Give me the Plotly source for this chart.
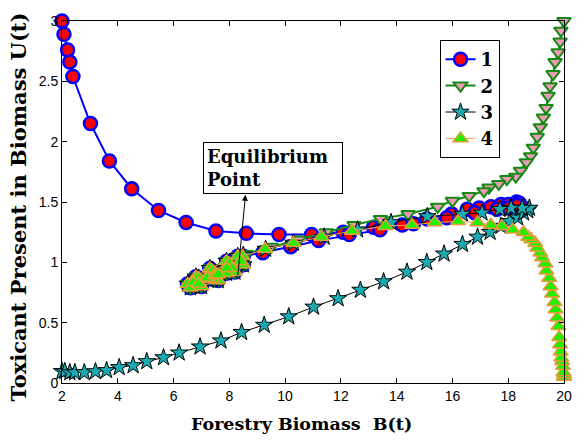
import plotly.graph_objects as go

# ---- data ----
SPIRAL_B = [8.3, 7.9, 7.3, 6.8, 6.5, 6.6, 7.0, 7.6, 8.2, 8.5, 8.4, 8.0, 7.4, 6.9, 6.7, 6.9, 7.4, 7.9, 8.1, 7.9, 7.5, 7.2, 7.2, 7.5, 7.6]
SPIRAL_U = [1.05, 1.01, 0.95, 0.88, 0.82, 0.79, 0.80, 0.85, 0.92, 0.98, 1.01, 0.99, 0.93, 0.87, 0.83, 0.82, 0.86, 0.91, 0.95, 0.95, 0.91, 0.88, 0.87, 0.89, 0.90]

B1 = [2.0, 2.07, 2.2, 2.28, 2.39, 3.02, 3.70, 4.5, 5.46, 6.45, 7.52, 8.61, 9.78, 10.95, 12.08, 13.17, 14.2, 15.08, 15.97,
      16.53, 16.96, 17.38, 17.74, 18.0, 18.3, 18.4, 18.3, 18.0, 17.6, 16.8, 15.8, 14.6, 13.4, 12.3, 11.2, 10.2, 9.2, 8.5]
U1 = [3.0, 2.89, 2.76, 2.66, 2.54, 2.15, 1.84, 1.61, 1.43, 1.33, 1.26, 1.24, 1.23, 1.23, 1.25, 1.29, 1.31, 1.36, 1.40,
      1.44, 1.45, 1.46, 1.48, 1.48, 1.50, 1.49, 1.47, 1.45, 1.44, 1.41, 1.37, 1.32, 1.27, 1.23, 1.18, 1.13, 1.08, 1.05]

B2 = [20.0, 19.89, 19.86, 19.79, 19.68, 19.61, 19.5, 19.43, 19.36, 19.26, 19.15, 19.04, 18.9, 18.8, 18.65, 18.44, 18.27,
      17.95, 17.66, 17.31, 17.13, 16.6, 16.0, 15.47, 14.41, 13.42, 12.47, 11.48, 10.5, 9.5, 8.6]
U2 = [3.0, 2.92, 2.83, 2.74, 2.66, 2.56, 2.46, 2.38, 2.28, 2.20, 2.12, 2.04, 1.95, 1.88, 1.83, 1.76, 1.71,
      1.69, 1.65, 1.62, 1.59, 1.55, 1.51, 1.46, 1.40, 1.36, 1.31, 1.25, 1.19, 1.13, 1.07]

B3 = [2.0, 2.1, 2.28, 2.46, 2.8, 3.2, 3.6, 4.05, 4.55, 5.04, 5.64, 6.2, 6.95, 7.7, 8.44, 9.25, 10.13, 11.02, 11.9, 12.7,
      13.53, 14.37, 15.08, 15.7, 16.36, 16.9, 17.35, 17.74, 18.05, 18.34, 18.55, 18.7, 18.76, 18.5, 18.1, 17.7, 17.06,
      16.36, 15.1, 13.8, 12.6, 11.4, 10.3, 9.3, 8.5]
U3 = [0.096, 0.096, 0.087, 0.087, 0.087, 0.095, 0.104, 0.129, 0.145, 0.178, 0.211, 0.25, 0.30, 0.35, 0.42, 0.48, 0.55,
      0.63, 0.70, 0.77, 0.84, 0.92, 1.0, 1.07, 1.15, 1.21, 1.25, 1.30, 1.34, 1.37, 1.41, 1.43, 1.45, 1.45, 1.45, 1.44,
      1.41, 1.40, 1.38, 1.33, 1.27, 1.21, 1.16, 1.11, 1.06]

B4 = [20.0, 20.0, 19.98, 19.96, 19.93, 19.9, 19.88, 19.86, 19.83, 19.8, 19.75, 19.7, 19.66, 19.57, 19.52, 19.47, 19.37,
      19.33, 19.22, 19.15, 19.04, 18.97, 18.83, 18.72, 18.55, 18.16, 17.77, 17.38, 16.9, 16.2, 15.37, 14.55, 13.6, 12.4,
      11.3, 10.3, 9.28, 8.47]
U4 = [0.05, 0.07, 0.09, 0.14, 0.18, 0.21, 0.26, 0.32, 0.38, 0.47, 0.54, 0.61, 0.67, 0.74, 0.80, 0.87, 0.93,
      0.99, 1.04, 1.08, 1.12, 1.16, 1.19, 1.21, 1.25, 1.27, 1.30, 1.31, 1.33, 1.34, 1.33, 1.31, 1.30, 1.26,
      1.21, 1.16, 1.11, 1.05]

NAMES = ["1", "2", "3", "4"]
X_TICKS = [2, 4, 6, 8, 10, 12, 14, 16, 18, 20]
Y_TICKS = [0, 0.5, 1, 1.5, 2, 2.5, 3]
Y_TICK_TEXT = ["0", "0.5", "1", "1.5", "2", "2.5", "3"]

TITLE_FONT = "DejaVu Serif"

fig = go.Figure()

fig.add_trace(go.Scatter(
    x=B1 + SPIRAL_B, y=U1 + SPIRAL_U, name=NAMES[0], mode="lines+markers", cliponaxis=False,
    line=dict(color="#0000ff", width=2),
    marker=dict(symbol="circle", size=13, color="#ff0000", line=dict(color="#0000ff", width=2.5)),
))
fig.add_trace(go.Scatter(
    x=B2 + SPIRAL_B, y=U2 + SPIRAL_U, name=NAMES[1], mode="lines+markers", cliponaxis=False,
    line=dict(color="#138a13", width=2),
    marker=dict(symbol="triangle-down", size=12, color="#f09ab8", line=dict(color="#138a13", width=2)),
))
fig.add_trace(go.Scatter(
    x=B3 + SPIRAL_B, y=U3 + SPIRAL_U, name=NAMES[2], mode="lines+markers", cliponaxis=False,
    line=dict(color="#000000", width=1),
    marker=dict(symbol="star", size=13, color="#1aaab2", line=dict(color="#000000", width=1)),
))
fig.add_trace(go.Scatter(
    x=B4 + SPIRAL_B, y=U4 + SPIRAL_U, name=NAMES[3], mode="lines+markers", cliponaxis=False,
    line=dict(color="#f0a850", width=1),
    marker=dict(symbol="triangle-up", size=13, color="#22ee00", line=dict(color="#e89a3a", width=1.5)),
))

axis_common = dict(
    showline=True, linecolor="black", linewidth=1, mirror="ticks",
    ticks="inside", ticklen=5, tickcolor="black", showgrid=False, zeroline=False,
    tickfont=dict(family="Liberation Sans", size=14, color="black"),
)

fig.update_xaxes(range=[2, 20], tickvals=X_TICKS, **axis_common)
fig.update_yaxes(range=[0, 3], tickvals=Y_TICKS, ticktext=Y_TICK_TEXT, **axis_common)

fig.update_layout(
    width=584, height=440,
    margin=dict(l=62, r=13, t=21, b=57),
    plot_bgcolor="white", paper_bgcolor="white",
    showlegend=True,
    legend=dict(
        x=0.752, y=0.9475, xanchor="left", yanchor="top",
        bgcolor="white", bordercolor="black", borderwidth=1,
        font=dict(family=TITLE_FONT, size=18, color="black", weight="bold"),
        tracegroupgap=0, itemsizing="trace",
    ),
)

# axis titles
fig.add_annotation(
    text="<b>Forestry Biomass\u00a0 B(t)</b>", xref="paper", yref="paper",
    x=0.477, y=-0.113, xanchor="center", yanchor="middle", showarrow=False,
    font=dict(family=TITLE_FONT, size=17.5, color="black"),
)
fig.add_annotation(
    text="<b>Toxicant Present in Biomass U(t)</b>", xref="paper", yref="paper",
    x=-0.086, y=0.487, xanchor="center", yanchor="middle", showarrow=False, textangle=-90,
    font=dict(family=TITLE_FONT, size=21, color="black"),
)

# equilibrium label and arrow
fig.add_annotation(
    text="<b>Equilibrium<br>Point</b>", xref="x", yref="y", x=9.57, y=1.78,
    xanchor="center", yanchor="middle", showarrow=False, align="left",
    width=132, bgcolor="white", bordercolor="black", borderwidth=1, borderpad=3,
    font=dict(family=TITLE_FONT, size=18, color="black"),
)
fig.add_annotation(
    text="", xref="x", yref="y", x=8.58, y=1.56, axref="x", ayref="y", ax=8.3, ay=0.88,
    showarrow=True, arrowhead=2, arrowsize=1.2, arrowwidth=1, arrowcolor="black", standoff=0,
)

fig.write_html(
    "out.html",
    config={"displayModeBar": False},
    post_script="document.body.style.margin='0';document.body.style.padding='0';",
)
